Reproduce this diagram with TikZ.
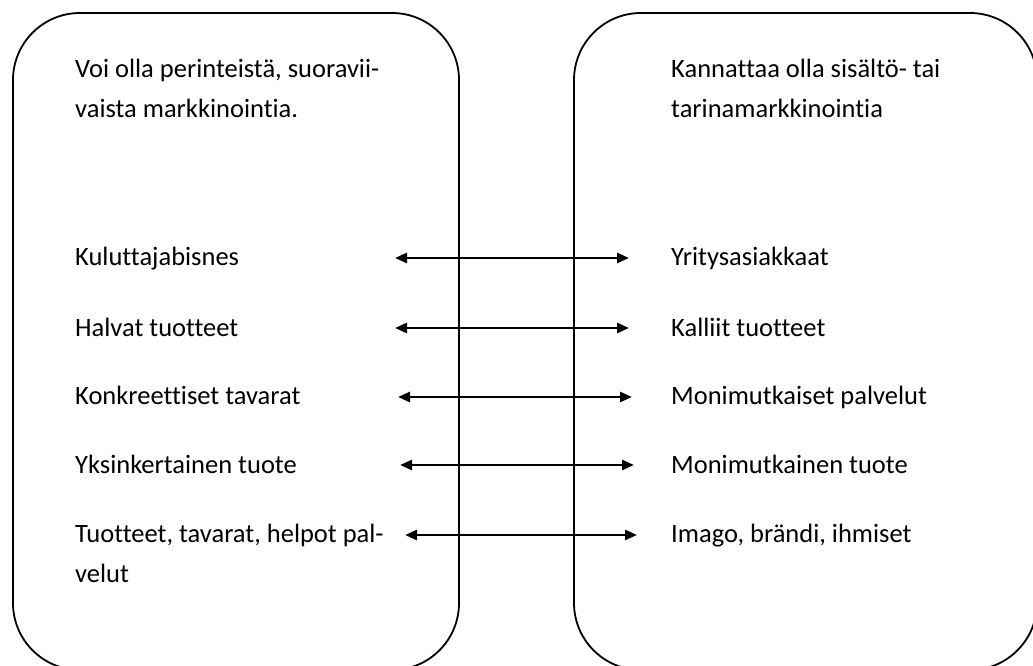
\documentclass[tikz,border=0pt]{standalone}
\usepackage{fontspec}
\setmainfont[Ligatures={NoCommon}]{Carlito}
\usetikzlibrary{arrows.meta}
\tikzset{
  panel/.style={draw=black, line width=1.8pt, rounded corners=67pt},
  txt/.style={anchor=base west, inner sep=0pt, font=\fontsize{26.5}{32}\selectfont},
  link/.style={line width=2.6pt, {Triangle[length=12pt,width=10pt]}-{Triangle[length=12pt,width=10pt]}}
}
\begin{document}
\begin{tikzpicture}[x=1pt,y=-1pt]
\useasboundingbox (0,0) rectangle (1033,666);
\clip (0,0) rectangle (1033,666);

% two rounded panels
\draw[panel] (13,13) rectangle (459,670);
\draw[panel] (574,13) rectangle (1037,670);

% left panel texts
\node[txt] (l0a) at (75,78) {Voi olla perinteistä, suoravii-};
\node[txt] (l0b) at (75,118) {vaista markkinointia.};
\node[txt] (l1) at (75,265) {Kuluttajabisnes};
\node[txt] (l2) at (75,336) {Halvat tuotteet};
\node[txt] (l3) at (75,404) {Konkreettiset tavarat};
\node[txt] (l4) at (75,473) {Yksinkertainen tuote};
\node[txt] (l5a) at (75,542) {Tuotteet, tavarat, helpot pal-};
\node[txt] (l5b) at (75,582) {velut};

% right panel texts
\node[txt] (r0a) at (671,78) {Kannattaa olla sisältö- tai};
\node[txt] (r0b) at (671,118) {tarinamarkkinointia};
\node[txt] (r1) at (671,265) {Yritysasiakkaat};
\node[txt] (r2) at (671,336) {Kalliit tuotteet};
\node[txt] (r3) at (671,404) {Monimutkaiset palvelut};
\node[txt] (r4) at (671,473) {Monimutkainen tuote};
\node[txt] (r5) at (671,542) {Imago, brändi, ihmiset};

% arrow end points
\coordinate (a1l) at (395,258); \coordinate (a1r) at (629,258);
\coordinate (a2l) at (395,328); \coordinate (a2r) at (629,328);
\coordinate (a3l) at (398,397); \coordinate (a3r) at (632,397);
\coordinate (a4l) at (400,465); \coordinate (a4r) at (634,465);
\coordinate (a5l) at (405,535); \coordinate (a5r) at (637,535);

\draw[link] (a1l) -- (a1r);
\draw[link] (a2l) -- (a2r);
\draw[link] (a3l) -- (a3r);
\draw[link] (a4l) -- (a4r);
\draw[link] (a5l) -- (a5r);
\end{tikzpicture}
\end{document}
